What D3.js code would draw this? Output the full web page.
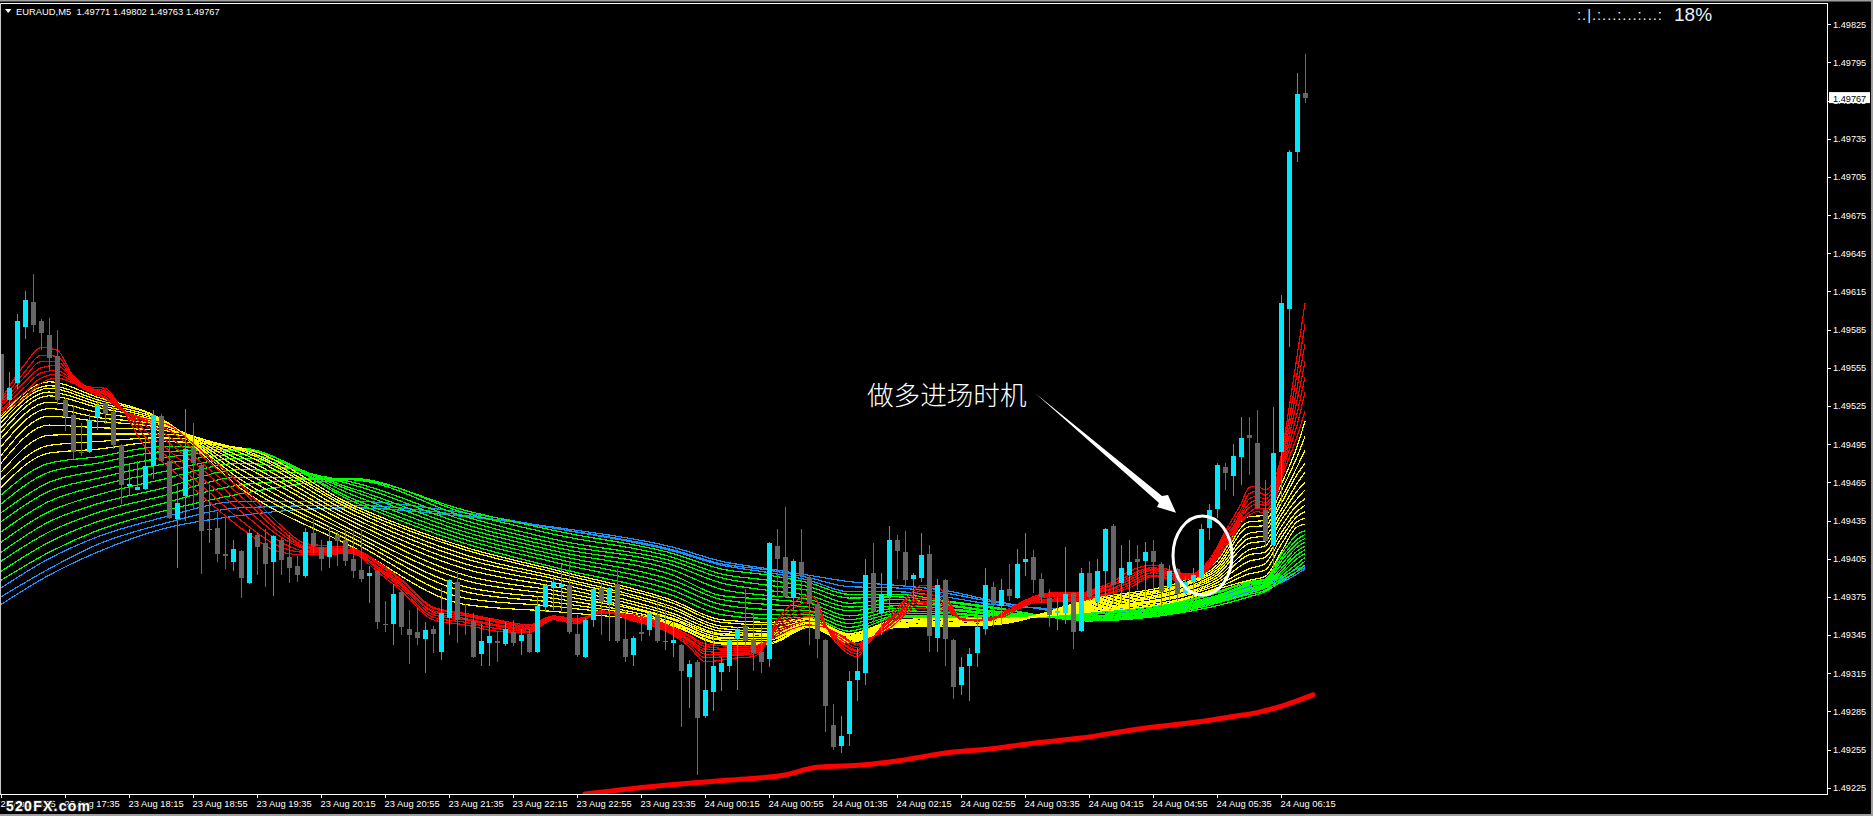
<!DOCTYPE html>
<html><head><meta charset="utf-8">
<script src="https://cdn.jsdelivr.net/npm/d3@7"></script>
<style>
html,body{margin:0;padding:0;background:#000;overflow:hidden}
svg{display:block}
text{font-family:"Liberation Sans",Arial,sans-serif;fill:#fff}
</style></head><body>
<svg id="c" width="1873" height="816"></svg>
<script>
// All prices are points above 1.49000 (771 means 1.49771)
const openPts=[566,530,543,587,607,592,581,564,530,518,489,489,516,527,520,494,462,459,460,478,517,482,436,454,492,479,428,429,409,402,411,386,424,417,402,420,406,399,391,425,414,406,424,420,405,396,391,395,354,354,379,350,347,342,350,332,358,387,358,356,330,339,340,338,347,340,346,332,367,382,383,384,346,328,357,382,369,385,342,329,347,349,361,340,339,337,312,324,281,300,316,321,342,352,342,332,326,415,406,374,402,390,369,341,274,258,267,310,315,394,362,376,420,410,389,390,409,343,388,341,306,321,331,350,383,368,381,374,402,406,389,374,362,362,378,348,394,371,395,431,386,392,405,403,411,401,383,397,378,387,390,429,444,477,470,485,502,496,443,416,489,601,725,771];
const highPts=[566,552,597,615,629,593,594,585,531,526,512,519,530,530,524,495,479,482,501,522,519,501,462,523,512,480,463,442,438,420,412,428,425,428,424,421,424,407,429,436,420,431,426,428,428,428,399,396,372,385,380,365,366,355,352,382,389,395,369,362,354,358,348,355,357,350,350,376,385,391,401,403,361,358,382,386,383,397,365,344,360,363,376,369,355,338,325,325,344,347,328,342,351,381,362,354,418,428,446,405,428,391,370,342,291,281,317,335,405,417,394,431,424,427,394,425,416,389,389,342,328,335,367,398,387,389,401,413,425,412,394,381,375,414,379,398,403,405,429,432,416,420,416,418,420,402,400,398,391,398,432,448,480,480,495,516,516,522,467,524,612,726,787,802];
const lowPts=[524,526,538,578,583,569,553,526,505,483,486,488,506,511,491,448,455,459,459,468,481,436,398,435,444,393,417,402,397,395,374,385,392,383,376,392,386,387,390,409,395,398,399,399,390,387,370,350,347,337,345,322,337,315,331,325,345,339,345,327,321,321,324,336,336,329,331,331,363,365,364,346,328,327,351,345,340,339,324,321,340,344,339,333,328,273,288,235,280,285,301,316,302,336,317,315,320,375,374,365,369,337,327,269,255,252,258,293,306,353,345,362,389,383,372,387,332,332,321,295,298,293,320,345,351,354,372,373,391,378,370,351,349,354,334,347,372,368,375,369,369,360,380,374,380,367,372,372,377,371,382,420,437,459,454,463,471,444,414,397,448,571,717,763];
const closePts=[530,539,592,608,589,582,563,530,516,489,488,514,526,519,494,463,464,461,478,518,482,437,449,491,480,427,428,409,407,413,390,425,414,401,423,404,398,392,426,415,405,419,419,403,395,389,394,355,353,377,351,345,343,349,346,362,388,357,357,328,340,344,339,350,339,345,332,368,384,387,385,347,329,357,381,371,382,340,328,343,346,362,340,340,341,317,322,280,302,321,323,341,350,340,331,324,417,405,375,403,391,369,342,289,257,266,309,317,392,363,377,420,411,388,392,408,344,384,342,304,320,330,351,384,369,380,376,401,405,388,375,361,364,377,347,394,375,395,428,384,398,402,402,410,402,379,395,377,387,392,428,443,479,472,486,500,500,445,419,488,606,725,770,767];

const priceTicks=[825,795,765,735,705,675,645,615,585,555,525,495,465,435,405,375,345,315,285,255,225];
const timeBars=[0,8,16,24,32,40,48,56,64,72,80,88,96,104,112,120,128,136,144,152,160];
const timeLabels=["23 Aug 16:55","23 Aug 17:35","23 Aug 18:15","23 Aug 18:55","23 Aug 19:35","23 Aug 20:15","23 Aug 20:55","23 Aug 21:35","23 Aug 22:15","23 Aug 22:55","23 Aug 23:35","24 Aug 00:15","24 Aug 00:55","24 Aug 01:35","24 Aug 02:15","24 Aug 02:55","24 Aug 03:35","24 Aug 04:15","24 Aug 04:55","24 Aug 05:35","24 Aug 06:15"];

// Thick slow red average
const slowRedBars=[73,83,87,91,98,102,108,112,119,123,129,135,142,150,154,157,160,164];
const slowRedPts=[220,227,229,231,235,241,243,246,253,255,260,264,271,277,281,284,289,298];

// Fast ribbon: each row is one bar, columns are the seven red averages
const redBars=[0,3,5,7,9,11,13,15,18,21,25,30,35,38,44,47,50,54,58,62,66,69,72,75,79,81,84,86,88,92,94,95,97,99,101,102,103,104,105,107,108,111,114,115,117,118,119,120,122,124,125,127,129,131,135,137,139,141,144,147,149,150,151,152,153,154,155,156,157,158,159,160,161,162,163];
const redRows=[
[530,528,526,524,522,521,519],[558,552,548,544,540,536,532],[571,565,560,555,551,547,543],[569,564,560,557,553,550,547],[549,548,547,546,545,544,543],[540,539,538,538,537,537,536],[539,537,536,535,534,532,531],[524,524,523,523,522,522,522],[493,501,506,510,513,514,515],[477,484,490,496,501,506,510],[455,463,469,476,481,486,490],[429,435,442,448,454,459,463],[410,414,418,422,425,428,431],[408,410,411,413,414,415,417],[409,410,411,411,412,412,413],[395,397,398,399,401,402,403],[380,382,384,385,386,388,389],[357,359,361,363,364,366,367],[353,355,357,358,360,361,362],[348,350,352,353,355,356,357],[347,348,349,350,351,352,353],[357,358,358,359,359,360,360],[354,355,355,356,356,357,358],[364,364,364,363,363,363,362],[356,357,358,358,359,360,361],[353,354,355,355,356,357,358],[345,346,347,348,349,350,351],[336,338,340,341,342,344,345],[324,327,330,332,334,336,338],[327,329,330,331,333,334,336],[328,330,331,332,333,335,336],[332,333,334,335,336,337,338],[357,355,352,350,348,346,344],[370,366,362,359,356,353,350],[376,371,367,363,360,356,353],[372,368,364,361,358,355,352],[354,354,353,353,352,352,351],[342,343,344,345,346,347,348],[335,337,339,340,342,344,345],[328,330,332,333,335,337,338],[335,336,337,338,339,340,341],[359,357,356,355,353,352,350],[379,376,373,371,369,367,365],[384,380,377,374,371,369,366],[383,379,376,373,371,368,365],[377,374,371,369,367,365,363],[366,365,364,363,363,362,361],[357,357,357,358,358,358,358],[356,356,356,356,357,357,357],[357,357,358,358,358,359,359],[362,361,361,360,360,360,359],[369,368,367,367,366,366,365],[375,374,373,372,372,371,370],[378,377,376,375,373,372,371],[378,377,376,375,374,373,372],[382,381,380,379,378,376,375],[387,385,384,382,381,379,378],[395,392,390,388,386,384,382],[400,398,397,396,394,392,391],[394,393,392,391,390,389,388],[393,393,392,391,391,390,390],[397,396,396,395,394,393,392],[404,402,401,400,399,398,397],[414,412,410,409,408,406,405],[426,424,422,420,418,416,414],[437,433,430,428,426,424,422],[448,444,441,439,437,435,433],[461,456,452,448,445,441,439],[462,458,454,451,448,445,442],[459,455,452,449,447,444,441],[465,461,458,455,453,449,446],[485,481,478,475,473,470,467],[523,514,507,501,495,490,484],[564,550,539,529,519,510,501],[606,589,574,560,548,536,521]];

// Slower ribbons share these bars
const slowBars=[0,6,12,20,30,44,58,70,84,90,96,101,106,112,118,124,136,148,152,156,158,160,162,163];
const yellowRows=[
[517,515,512,508,504,499,493,486,480,473,467,461],
[544,541,539,536,533,528,523,517,510,502,494,488],
[532,530,528,526,524,520,516,513,508,503,497,491],
[515,515,514,513,512,511,510,508,506,503,500,497],
[460,464,467,471,475,479,482,485,488,490,491,492],
[414,418,421,424,427,431,434,437,440,443,445,447],
[369,374,379,383,388,392,397,401,405,408,412,414],
[363,367,370,373,376,379,382,385,388,390,393,395],
[352,353,354,355,357,358,360,362,365,367,370,372],
[338,339,341,342,343,345,346,348,350,352,355,357],
[338,339,341,342,342,344,345,346,348,350,353,355],
[351,352,352,353,353,353,354,354,355,356,357,358],
[339,339,340,340,341,341,342,343,344,344,345,346],
[351,352,352,352,353,353,353,354,354,355,356,357],
[352,352,352,353,353,354,354,355,355,356,357,358],
[353,353,354,354,354,355,355,356,356,357,357,358],
[373,372,371,370,369,368,367,366,365,364,364,363],
[388,386,385,384,382,381,380,378,377,376,374,373],
[403,400,398,396,394,392,390,388,386,384,382,381],
[438,434,430,425,421,417,412,408,403,397,393,388],
[439,435,431,427,423,419,415,410,406,401,396,391],
[463,458,452,448,443,439,435,430,425,421,416,410],
[493,485,477,471,464,458,452,447,442,438,434,430],
[513,501,490,480,473,465,459,452,447,442,437,432]];
const greenRows=[
[455,448,441,434,426,418,410,403,395,388],
[480,473,465,458,450,442,434,426,418,410],
[485,480,474,468,462,455,448,441,434,427],
[493,489,484,479,473,467,460,454,448,442],
[492,491,490,487,484,480,475,469,463,456],
[450,452,455,458,460,463,465,467,468,467],
[417,420,423,426,429,432,435,438,441,443],
[397,401,404,407,410,413,416,419,423,426],
[376,380,384,388,392,396,400,403,406,409],
[361,365,369,373,376,381,386,390,393,397],
[358,361,365,369,373,376,380,384,388,392],
[359,361,364,367,370,373,376,380,383,386],
[348,351,354,357,360,364,367,370,374,377],
[359,360,362,364,366,368,370,373,375,377],
[359,360,362,363,365,366,368,369,371,372],
[358,358,359,360,361,362,363,364,366,367],
[362,361,360,360,359,359,358,358,357,356],
[372,371,370,369,368,367,366,365,364,363],
[379,378,376,375,374,373,372,371,370,368],
[387,386,385,384,382,381,380,378,377,375],
[389,388,387,386,385,384,383,382,380,379],
[408,405,403,400,397,395,393,391,389,387],
[424,420,417,414,411,408,405,401,398,395],
[427,424,421,418,415,412,409,406,403,400]];
const blueRows=[
[382,375,369],[405,397,392],[422,416,410],[437,432,428],[450,445,439],[450,447,445],[441,439,438],[428,428,429],[411,412,414],[400,401,403],[394,396,397],[388,390,392],[379,383,387],[379,382,384],[375,378,380],[369,371,372],[365,363,362],[370,368,367],[375,373,371],[383,381,379],[386,384,382],[390,388,386],[397,395,393],[399,398,397]];

const W=1873,H=816,axisX=1827,axisY=794,topY=3;
const svg=d3.select("#c");
svg.append("rect").attr("width",W).attr("height",H).attr("fill","#000");
const x=d3.scaleLinear().domain([0,(axisX-1)/8]).range([1,axisX]);
const y=d3.scaleLinear().domain([225,825]).range([787.7,24.3]);
const fmtPrice=p=>((149000+p)/100000).toFixed(5);

svg.append("defs").append("clipPath").attr("id","plot").append("rect")
  .attr("x",0).attr("y",topY).attr("width",axisX).attr("height",axisY-topY);
const plot=svg.append("g").attr("clip-path","url(#plot)");

function ribbon(bars,rows,color){
  const g=plot.append("g").attr("fill","none").attr("stroke",color).attr("stroke-width",1.2).attr("shape-rendering","crispEdges");
  const ln=d3.line().x((d,i)=>x(bars[i])).y(d=>y(d)).curve(d3.curveMonotoneX);
  g.selectAll("path").data(d3.transpose(rows)).join("path").attr("d",ln);
}
ribbon(slowBars,blueRows,"#1e90ff");
ribbon(slowBars,greenRows,"#00ff00");
ribbon(slowBars,yellowRows,"#ffff00");
ribbon(redBars,redRows,"#ff0000");

plot.append("path").datum(slowRedPts)
  .attr("fill","none").attr("stroke","#ff0000").attr("stroke-width",5).attr("stroke-linecap","round")
  .attr("d",d3.line().x((d,i)=>x(slowRedBars[i])).y(d=>y(d)).curve(d3.curveMonotoneX));

// Candles
const bars=d3.range(openPts.length);
const wickCol=i=>closePts[i]>openPts[i]?"#1e9cf0":closePts[i]<openPts[i]?"#696969":"#ff4500";
const bodyCol=i=>closePts[i]>openPts[i]?"#00e8ff":closePts[i]<openPts[i]?"#666666":"#ff4500";
const cg=plot.append("g").attr("shape-rendering","crispEdges");
cg.selectAll("line").data(bars).join("line")
  .attr("x1",i=>x(i)+.5).attr("x2",i=>x(i)+.5)
  .attr("y1",i=>y(highPts[i])).attr("y2",i=>y(lowPts[i]))
  .attr("stroke",wickCol);
cg.selectAll("rect").data(bars).join("rect")
  .attr("x",i=>x(i)-2).attr("width",5)
  .attr("y",i=>Math.min(y(openPts[i]),y(closePts[i])))
  .attr("height",i=>Math.max(1,Math.abs(y(openPts[i])-y(closePts[i]))))
  .attr("fill",bodyCol);

// Annotation
svg.append("text").text("做多进场时机").attr("x",867).attr("y",405)
  .style("font-family",'"Noto Sans CJK SC"').style("font-weight",300).style("font-size","26.6px");
svg.append("path").attr("fill","#fff")
  .attr("d","M1035,393 L1162,496 L1168,495 L1176,512.7 L1157,507 L1159,503 Z");
svg.append("ellipse").attr("cx",1202.5).attr("cy",555.5).attr("rx",29.5).attr("ry",39.5)
  .attr("fill","none").attr("stroke","#fff").attr("stroke-width",3);

// Frame
svg.append("rect").attr("x",0).attr("y",0).attr("width",W).attr("height",1.5).attr("fill","#a0a0a0");
svg.append("rect").attr("x",0).attr("y",814).attr("width",W).attr("height",2).attr("fill","#a0a0a0");
svg.append("rect").attr("x",1871).attr("y",0).attr("width",2).attr("height",H).attr("fill","#a0a0a0");
svg.append("rect").attr("x",0).attr("y",topY).attr("width",axisX).attr("height",1).attr("fill","#fff");
svg.append("rect").attr("x",0).attr("y",topY).attr("width",1).attr("height",axisY-topY).attr("fill","#c8c8c8");

// Axes
const yAxis=d3.axisRight(y).tickValues(priceTicks).tickSize(4).tickPadding(2).tickFormat(fmtPrice);
const ay=svg.append("g").attr("transform",`translate(${axisX},0)`).call(yAxis);
ay.select(".domain").remove();
ay.selectAll("line").attr("stroke","#fff").attr("shape-rendering","crispEdges");
ay.selectAll("text").style("font-size","9.2px").style("font-family",'"Liberation Sans"').attr("fill","#fff");
svg.append("rect").attr("x",axisX).attr("y",topY).attr("width",1).attr("height",axisY-topY+1).attr("fill","#fff");

const xAxis=d3.axisBottom(x).tickValues(timeBars).tickSize(4).tickSizeOuter(0).tickFormat((d,i)=>timeLabels[i]);
const ax=svg.append("g").attr("transform",`translate(0,${axisY})`).call(xAxis);
ax.select(".domain").remove();
ax.selectAll("line").attr("stroke","#fff").attr("shape-rendering","crispEdges");
ax.selectAll("text").attr("text-anchor","start").attr("x",-1).attr("y",6).style("font-size","9.4px").style("font-family",'"Liberation Sans"').attr("fill","#fff");
svg.append("rect").attr("x",0).attr("y",axisY).attr("width",axisX+1).attr("height",1).attr("fill","#fff");

// Current price label
const lastClose=closePts[closePts.length-1];
svg.append("rect").attr("x",axisX+2).attr("y",y(lastClose)-6).attr("width",41).attr("height",11).attr("fill","#fff");
svg.append("text").text(fmtPrice(lastClose)).attr("x",axisX+6).attr("y",y(lastClose)+3.5)
  .style("font-size","9.2px").style("fill","#000");

// Header
svg.append("path").attr("d","M5,9 L11.5,9 L8.2,13 Z").attr("fill","#fff");
svg.append("text").text("EURAUD,M5  1.49771 1.49802 1.49763 1.49767").attr("x",16).attr("y",15)
  .attr("xml:space","preserve").style("white-space","pre").style("font-size","9.4px");

// Top-right status
svg.append("text").text(":.|.:...:...:...:").attr("x",1577).attr("y",20)
  .attr("textLength",85).style("font-size","15px").style("fill","#dfe9f2");
svg.append("text").text("18%").attr("x",1674).attr("y",21)
  .style("font-size","19px").style("fill","#e8f0f8");

// Watermark
svg.append("text").text("520FX.com").attr("x",6).attr("y",811)
  .attr("textLength",84).style("font-size","14px").style("font-weight","bold")
  .style("fill","#fff").attr("stroke","#222").attr("stroke-width",2).style("paint-order","stroke");
</script>
</body></html>
